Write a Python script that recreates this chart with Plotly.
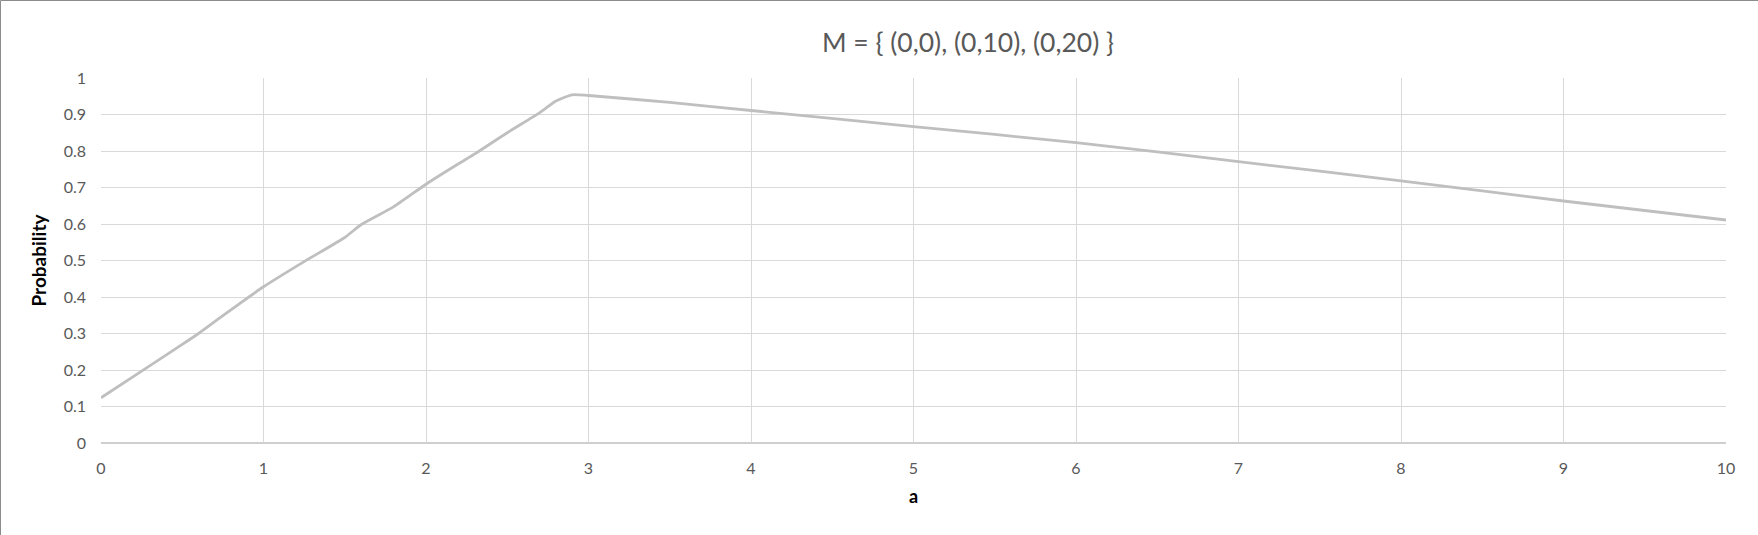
import plotly.graph_objects as go

# data
a_vals = [0, 0.25, 0.5, 0.6, 0.75, 1.0, 1.25, 1.5, 1.6, 1.8, 2.0, 2.2, 2.3, 2.5, 2.7, 2.8, 2.9, 3.0, 3.5, 4, 5, 6, 7, 8, 9, 10]
prob_vals = [0.124, 0.197, 0.27, 0.30, 0.349, 0.428, 0.497, 0.563, 0.598, 0.647, 0.709, 0.765, 0.792, 0.85, 0.905,
             0.937, 0.954, 0.952, 0.933, 0.911, 0.867, 0.823, 0.771, 0.718, 0.663, 0.611]
x_ticks = [0, 1, 2, 3, 4, 5, 6, 7, 8, 9, 10]
y_ticks = [0, 0.1, 0.2, 0.3, 0.4, 0.5, 0.6, 0.7, 0.8, 0.9, 1]
y_tick_labels = ["0", "0.1", "0.2", "0.3", "0.4", "0.5", "0.6", "0.7", "0.8", "0.9", "1"]
title_text = "M = { (0,0), (0,10), (0,20) }"

W, H = 1758, 535
L, R, T, B = 101, 32, 78, 92
pw, ph = W - L - R, H - T - B

FONT = "Lato, Open Sans, sans-serif"

fig = go.Figure()
fig.add_trace(go.Scatter(
    x=a_vals, y=prob_vals, mode="lines",
    line=dict(color="#BFBFBF", width=2.8, shape="spline", smoothing=0.6),
    hoverinfo="skip", showlegend=False,
))

# outer chart border (top and left edges visible)
px = lambda p: (p - L) / pw
py = lambda p: (H - B - p) / ph
fig.add_shape(type="line", xref="paper", yref="paper",
              x0=px(0.5), x1=px(W), y0=py(0.5), y1=py(0.5),
              line=dict(color="#8C8C8C", width=1))
fig.add_shape(type="line", xref="paper", yref="paper",
              x0=px(0.5), x1=px(0.5), y0=py(0.5), y1=py(H),
              line=dict(color="#8C8C8C", width=1))

fig.update_layout(
    width=W, height=H,
    margin=dict(l=L, r=R, t=T, b=B),
    paper_bgcolor="white", plot_bgcolor="white",
    font=dict(family=FONT, color="#595959"),
    title=dict(text=title_text, x=(968 - L) / pw, xref="paper", xanchor="center",
               y=1 - 43 / H, yref="container", yanchor="middle",
               font=dict(size=26.5, color="#595959", family=FONT)),
    xaxis=dict(range=[0, 10], tickvals=x_ticks, ticktext=[str(t) for t in x_ticks],
               showgrid=True, gridcolor="#D9D9D9", gridwidth=1.3,
               zeroline=False, showline=False, ticks="", ticklabelstandoff=14,
               tickfont=dict(size=16, color="#595959"),
               title=dict(text="<b>a</b>", font=dict(size=18, color="#000000"), standoff=14)),
    yaxis=dict(range=[0, 1], tickvals=y_ticks, ticktext=y_tick_labels,
               showgrid=True, gridcolor="#D9D9D9", gridwidth=1.3,
               zeroline=False, showline=False, ticks="", ticklabelstandoff=14,
               tickfont=dict(size=16, color="#595959"),
               title=dict(text="<b>Probability</b>", font=dict(size=19, color="#000000"), standoff=12)),
)
# bottom axis line
fig.add_shape(type="line", xref="paper", yref="paper", x0=0, x1=1, y0=0, y1=0,
              line=dict(color="#BFBFBF", width=1.5), layer="below")

fig.write_html("out.html", config={"displayModeBar": False},
               post_script="document.body.style.margin='0px';")
